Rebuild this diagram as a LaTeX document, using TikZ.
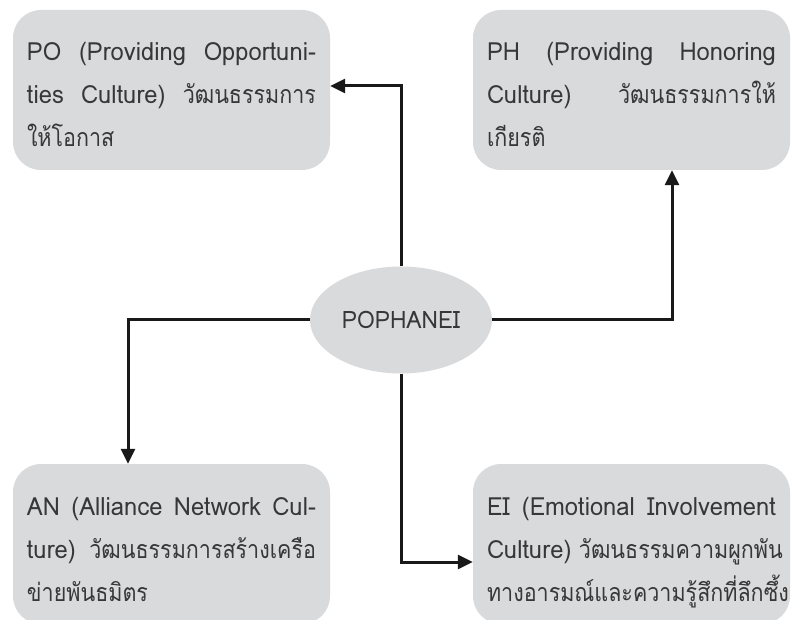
\documentclass[tikz,border=0pt]{standalone}
\usepackage{fontspec}
\setmainfont[FakeStretch=0.95]{Loma}
\newfontfamily\thaifont[Script=Thai, FakeStretch=0.86]{Loma}
\usetikzlibrary{shapes.geometric}
\usetikzlibrary{arrows.meta}

\definecolor{boxgray}{RGB}{217,218,220}
\definecolor{textgray}{RGB}{55,55,55}

\newlength{\cultwidth}
\setlength{\cultwidth}{289pt}

% one justified line inside a box
\newcommand{\jline}[1]{\makebox[\cultwidth][s]{\spaceskip=0.3em plus 1fil\relax #1}}
\newcommand{\thtext}[1]{{\thaifont #1}}

\tikzset{
    culture/.style = {rectangle, rounded corners = 28pt, fill = boxgray,
        text = textgray, text width = \cultwidth, inner sep = 14pt,
        minimum width = 317pt, minimum height = 156pt, align = left,
        font = \fontsize{25}{43}\selectfont,
        execute at begin node = \rule{0pt}{37pt},
        execute at end node = \rule[-9pt]{0pt}{9pt}},
    hubnode/.style = {ellipse, fill = boxgray, text = textgray,
        minimum width = 182pt, minimum height = 107pt, inner sep = 0pt,
        font = \fontsize{24}{28}\selectfont},
    link/.style = {black!90, line width = 3pt, -{Triangle[length = 15pt, width = 14pt]}}
}

\begin{document}
\begin{tikzpicture}[x = 1pt, y = 1pt]

    \useasboundingbox (0,0) rectangle (792,619);

    \node (hub) at (401,299) [hubnode] {POPHANEI};

    \node (po) at (171.5,529) [culture]
        {\jline{PO (Providing Opportuni-}\\\jline{ties Culture) \thtext{วัฒนธรรมการ}}\\\thtext{ให้โอกาส}};
    \node (ph) at (631.5,529) [culture]
        {\jline{PH (Providing Honoring}\\\jline{Culture) \thtext{วัฒนธรรมการให้}}\\\thtext{เกียรติ}};
    \node (an) at (171.5,75) [culture]
        {\jline{AN (Alliance Network Cul-}\\\jline{ture) \thtext{วัฒนธรรมการสร้างเครือ}}\\\thtext{ข่ายพันธมิตร}};
    \node (ei) at (631.5,75) [culture]
        {\jline{EI (Emotional Involvement}\\\jline{Culture) \thtext{วัฒนธรรมความผูกพัน}}\\\thtext{ทางอารมณ์และความรู้สึกที่ลึกซึ้ง}};

    \draw[link] (hub.north) |- ([yshift = 4pt]po.east);
    \draw[link] (hub.east) -| ([xshift = 40.5pt]ph.south);
    \draw[link] (hub.west) -| ([xshift = -43.5pt]an.north);
    \draw[link] (hub.south) |- ([yshift = -18pt]ei.west);

\end{tikzpicture}
\end{document}
